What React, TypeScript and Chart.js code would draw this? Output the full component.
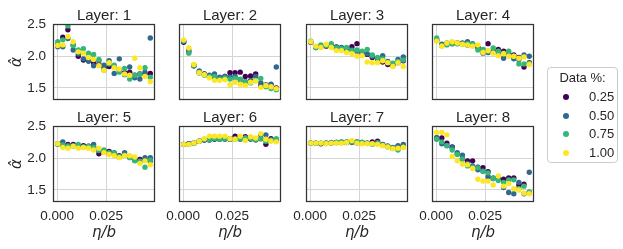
import React, { useEffect, useRef } from "react";
import { Chart, registerables } from "chart.js";

Chart.register(...registerables);

// x values (eta / b)
const etaOverB = [0.0003, 0.0029, 0.0055, 0.0082, 0.0108, 0.0134, 0.016, 0.0186, 0.0213, 0.0239, 0.0265, 0.0291, 0.0317, 0.0344, 0.037, 0.0396, 0.0422, 0.0448, 0.0475];

const dataPercents = ["0.25", "0.50", "0.75", "1.00"];
const seriesColors = ["#440154", "#31688e", "#35b779", "#fde725"];
const layerTitles = ["Layer: 1", "Layer: 2", "Layer: 3", "Layer: 4", "Layer: 5", "Layer: 6", "Layer: 7", "Layer: 8"];
const xTickValues = [0, 0.025];
const xTickLabels = ["0.000", "0.025"];
const yTickValues = [1.5, 2.0, 2.5];
const yTickLabels = ["1.5", "2.0", "2.5"];

const L1_025 = [2.18, 2.30, 2.42, 2.18, 2.00, 1.94, 1.98, 1.90, 1.87, 1.82, 1.84, 1.83, 1.79, 1.74, 1.75, 1.70, 1.72, 1.72, 1.73];
const L1_050 = [2.15, 2.15, 2.28, 2.10, 2.04, 1.96, 1.92, 1.85, 1.93, 1.86, 1.93, 1.73, 1.96, 1.71, 1.83, 1.66, 1.64, 1.75, 2.29];
const L1_075 = [2.23, 2.26, 2.48, 2.17, 2.10, 2.12, 2.05, 2.03, 1.95, 1.78, 1.88, 1.86, 1.75, 1.81, 1.64, 1.70, 1.72, 1.82, 1.67];
const L1_100 = [2.17, 2.18, 2.31, 2.23, 2.07, 2.05, 1.98, 1.95, 1.85, 1.78, 1.90, 1.82, 1.80, 1.72, 1.70, 1.97, 1.82, 1.68, 1.60];

const L2_025 = [2.22, 2.07, 1.85, 1.74, 1.72, 1.68, 1.67, 1.65, 1.68, 1.74, 1.74, 1.75, 1.68, 1.69, 1.72, 1.53, 1.53, 1.55, 1.50];
const L2_050 = [2.24, 2.10, 1.85, 1.77, 1.72, 1.70, 1.72, 1.67, 1.68, 1.67, 1.68, 1.63, 1.60, 1.62, 1.68, 1.58, 1.55, 1.56, 1.83];
const L2_075 = [2.24, 2.05, 1.86, 1.74, 1.70, 1.68, 1.68, 1.64, 1.66, 1.64, 1.65, 1.64, 1.60, 1.58, 1.62, 1.65, 1.52, 1.49, 1.47];
const L2_100 = [2.26, 2.13, 1.87, 1.74, 1.71, 1.66, 1.62, 1.62, 1.63, 1.55, 1.59, 1.56, 1.54, 1.59, 1.61, 1.51, 1.54, 1.52, 1.49];

const L3_025 = [2.22, 2.15, 2.16, 2.16, 2.18, 2.12, 2.11, 2.12, 2.15, 2.20, 2.06, 2.03, 1.98, 1.96, 1.91, 1.87, 1.86, 1.90, 1.93];
const L3_050 = [2.22, 2.14, 2.15, 2.17, 2.16, 2.15, 2.14, 2.10, 2.10, 2.08, 2.04, 2.04, 2.00, 1.96, 2.01, 1.92, 1.88, 1.95, 1.99];
const L3_075 = [2.24, 2.14, 2.18, 2.17, 2.20, 2.13, 2.12, 2.14, 2.09, 2.10, 2.08, 2.11, 2.02, 1.98, 1.96, 1.90, 1.89, 1.92, 1.94];
const L3_100 = [2.23, 2.16, 2.14, 2.19, 2.14, 2.09, 2.09, 2.06, 2.04, 2.00, 2.01, 1.91, 1.90, 1.90, 1.93, 1.90, 1.84, 1.90, 1.84];

const L4_025 = [2.25, 2.17, 2.20, 2.20, 2.21, 2.20, 2.18, 2.17, 2.14, 2.10, 2.20, 2.08, 2.11, 2.08, 2.04, 2.02, 1.98, 1.83, 1.90];
const L4_050 = [2.26, 2.19, 2.21, 2.22, 2.20, 2.21, 2.23, 2.20, 2.14, 2.05, 2.06, 2.09, 2.04, 1.97, 2.03, 1.96, 1.95, 2.02, 2.00];
const L4_075 = [2.29, 2.17, 2.18, 2.20, 2.20, 2.19, 2.20, 2.19, 2.10, 2.11, 2.08, 2.13, 2.08, 2.05, 2.08, 2.00, 1.88, 1.88, 1.89];
const L4_100 = [2.24, 2.16, 2.21, 2.23, 2.21, 2.19, 2.18, 2.16, 2.18, 2.06, 2.09, 2.05, 2.01, 2.04, 2.00, 2.00, 1.97, 1.99, 1.87];

const L5_025 = [2.23, 2.21, 2.22, 2.22, 2.20, 2.20, 2.19, 2.18, 2.07, 2.12, 2.11, 2.07, 2.04, 2.05, 2.03, 1.97, 1.98, 1.97, 1.96];
const L5_050 = [2.22, 2.26, 2.20, 2.20, 2.19, 2.18, 2.18, 2.22, 2.12, 2.10, 2.07, 2.09, 2.02, 2.09, 2.02, 1.99, 1.96, 2.01, 2.01];
const L5_075 = [2.23, 2.21, 2.19, 2.19, 2.22, 2.18, 2.19, 2.17, 2.13, 2.13, 2.09, 2.08, 2.03, 2.05, 2.01, 1.96, 1.95, 1.86, 1.97];
const L5_100 = [2.23, 2.17, 2.16, 2.19, 2.16, 2.17, 2.16, 2.13, 2.16, 2.09, 2.06, 2.04, 2.01, 2.04, 2.04, 2.02, 1.92, 1.96, 1.90];

const L6_025 = [2.22, 2.23, 2.24, 2.27, 2.29, 2.29, 2.30, 2.30, 2.31, 2.30, 2.35, 2.32, 2.34, 2.31, 2.30, 2.31, 2.22, 2.31, 2.28];
const L6_050 = [2.22, 2.23, 2.24, 2.27, 2.29, 2.30, 2.31, 2.31, 2.30, 2.31, 2.31, 2.30, 2.32, 2.30, 2.29, 2.37, 2.37, 2.28, 2.29];
const L6_075 = [2.22, 2.22, 2.24, 2.27, 2.30, 2.29, 2.31, 2.30, 2.31, 2.30, 2.30, 2.31, 2.32, 2.31, 2.30, 2.31, 2.27, 2.29, 2.31];
const L6_100 = [2.22, 2.22, 2.24, 2.27, 2.31, 2.35, 2.35, 2.35, 2.35, 2.31, 2.30, 2.35, 2.28, 2.34, 2.32, 2.39, 2.30, 2.27, 2.26];

const L7_025 = [2.24, 2.24, 2.23, 2.24, 2.24, 2.25, 2.25, 2.25, 2.26, 2.26, 2.25, 2.24, 2.26, 2.27, 2.22, 2.19, 2.16, 2.18, 2.20];
const L7_050 = [2.24, 2.24, 2.24, 2.24, 2.25, 2.25, 2.26, 2.26, 2.25, 2.24, 2.25, 2.24, 2.23, 2.25, 2.21, 2.19, 2.17, 2.20, 2.22];
const L7_075 = [2.24, 2.24, 2.24, 2.24, 2.24, 2.25, 2.26, 2.26, 2.26, 2.26, 2.25, 2.24, 2.22, 2.24, 2.21, 2.18, 2.16, 2.13, 2.18];
const L7_100 = [2.24, 2.24, 2.24, 2.23, 2.24, 2.24, 2.24, 2.25, 2.28, 2.24, 2.23, 2.23, 2.23, 2.22, 2.20, 2.18, 2.15, 2.16, 2.17];

const L8_025 = [2.31, 2.32, 2.24, 2.18, 2.07, 1.99, 1.96, 1.96, 1.86, 1.85, 1.79, 1.68, 1.68, 1.67, 1.69, 1.69, 1.58, 1.59, 1.46];
const L8_050 = [2.33, 2.23, 2.20, 2.17, 2.09, 2.05, 1.92, 1.88, 1.82, 1.80, 1.71, 1.69, 1.70, 1.54, 1.46, 1.44, 1.62, 1.44, 1.78];
const L8_075 = [2.30, 2.26, 2.20, 2.13, 2.06, 1.99, 1.88, 1.86, 1.85, 1.79, 1.77, 1.68, 1.65, 1.62, 1.66, 1.66, 1.52, 1.56, 1.47];
const L8_100 = [2.41, 2.41, 2.37, 2.03, 1.96, 1.91, 1.90, 1.84, 1.67, 1.64, 1.64, 1.58, 1.72, 1.56, 1.60, 1.52, 1.50, 1.45, 1.44];

const layerSeries = [
  [L1_025, L1_050, L1_075, L1_100],
  [L2_025, L2_050, L2_075, L2_100],
  [L3_025, L3_050, L3_075, L3_100],
  [L4_025, L4_050, L4_075, L4_100],
  [L5_025, L5_050, L5_075, L5_100],
  [L6_025, L6_050, L6_075, L6_100],
  [L7_025, L7_050, L7_075, L7_100],
  [L8_025, L8_050, L8_075, L8_100],
];

// layout
const COL_LEFT = [53, 179, 306, 432];
const ROW_TOP = [24, 126];
const AX_W = 53;
const TITLE_H = 24;
const XAX_H = 46;
const PLOT_W = 104;
const PLOT_H = 76;
const SANS = "'Liberation Sans', Arial, sans-serif";
const TEXT = "#262626";
const GRID = "#d5d5d5";

const framePlugin = {
  id: "frame",
  afterDraw(chart: any) {
    const { ctx, chartArea } = chart;
    ctx.save();
    ctx.strokeStyle = "#333333";
    ctx.lineWidth = 1.25;
    ctx.strokeRect(chartArea.left + 0.5, chartArea.top + 0.5, chartArea.right - chartArea.left - 1, chartArea.bottom - chartArea.top - 1);
    ctx.restore();
  },
};

function Panel({ idx }: { idx: number }) {
  const ref = useRef<HTMLCanvasElement | null>(null);
  const row = Math.floor(idx / 4);
  const col = idx % 4;
  const isLeft = col === 0;
  const isBottom = row === 1;
  const w = AX_W + PLOT_W + 2;
  const h = TITLE_H + PLOT_H + XAX_H;

  useEffect(() => {
    if (!ref.current) return;
    const series = layerSeries[idx];
    const datasets = series.map((vals, s) => ({
      label: dataPercents[s],
      data: vals.map((v, i) => ({ x: etaOverB[i], y: v })),
      backgroundColor: seriesColors[s],
      borderWidth: 0,
      pointRadius: 2.7,
      order: 3 - s,
    }));
    const chart = new Chart(ref.current, {
      type: "scatter",
      data: { datasets },
      options: {
        animation: false,
        responsive: false,
        events: [],
        layout: { padding: { left: 0, right: 2, top: 0, bottom: 0 } },
        plugins: {
          legend: { display: false },
          tooltip: { enabled: false },
          title: {
            display: true,
            fullSize: false,
            text: layerTitles[idx],
            color: TEXT,
            font: { family: SANS, size: 15, weight: "normal", lineHeight: 1 },
            padding: { top: 8, bottom: 1 },
          },
        },
        scales: {
          x: {
            type: "linear",
            min: -0.0021,
            max: 0.0499,
            afterBuildTicks: (s: any) => {
              s.ticks = xTickValues.map((v) => ({ value: v }));
            },
            afterFit: (s: any) => {
              s.height = XAX_H;
            },
            grid: { color: GRID, lineWidth: 1, drawTicks: false },
            border: { display: false },
            ticks: {
              display: isBottom,
              padding: 6,
              color: TEXT,
              font: { family: SANS, size: 13.5 },
              callback: (_v: any, i: number) => xTickLabels[i],
            },
            title: {
              display: isBottom,
              text: "η/b",
              color: TEXT,
              font: { family: "'DejaVu Sans'", size: 15, style: "italic", lineHeight: 1.2 },
              padding: { top: 0, bottom: 6 },
            },
          },
          y: {
            type: "linear",
            min: 1.31,
            max: 2.51,
            afterBuildTicks: (s: any) => {
              s.ticks = yTickValues.map((v) => ({ value: v }));
            },
            afterFit: (s: any) => {
              s.width = AX_W;
            },
            grid: { color: GRID, lineWidth: 1, drawTicks: false },
            border: { display: false },
            ticks: {
              display: isLeft,
              padding: 7,
              color: TEXT,
              font: { family: SANS, size: 13.5 },
              callback: (_v: any, i: number) => yTickLabels[i],
            },
            title: {
              display: isLeft,
              text: "α̂",
              color: TEXT,
              font: { family: "'DejaVu Sans'", size: 15, style: "italic", lineHeight: 1.2 },
              padding: { top: 8.5, bottom: 0 },
            },
          },
        },
      },
      plugins: [framePlugin],
    } as any);
    return () => chart.destroy();
  }, [idx]);

  return (
    <canvas
      ref={ref}
      width={w}
      height={h}
      style={{ position: "absolute", left: COL_LEFT[col] - AX_W, top: ROW_TOP[row] - TITLE_H, width: w, height: h }}
    />
  );
}

function Legend() {
  return (
    <div
      style={{
        position: "absolute",
        left: 547,
        top: 67,
        width: 69,
        height: 94,
        border: "1px solid #cccccc",
        borderRadius: 4,
        background: "#ffffff",
        fontFamily: SANS,
        fontSize: 13,
        color: TEXT,
      }}
    >
      <div style={{ position: "absolute", left: 0, width: 69, top: 2, textAlign: "center", lineHeight: "16px" }}>Data %:</div>
      {dataPercents.map((p, i) => (
        <div key={p} style={{ position: "absolute", left: 0, top: 21 + i * 18.5, height: 16, width: 69 }}>
          <span
            style={{
              position: "absolute",
              left: 15,
              top: 5,
              width: 6,
              height: 6,
              borderRadius: 3,
              background: seriesColors[i],
            }}
          />
          <span style={{ position: "absolute", left: 41, top: 0, lineHeight: "16px" }}>{p}</span>
        </div>
      ))}
    </div>
  );
}

export default function App() {
  return (
    <div style={{ position: "fixed", left: 0, top: 0, width: 623, height: 249, background: "#ffffff", overflow: "hidden" }}>
      {layerTitles.map((_, i) => (
        <Panel key={i} idx={i} />
      ))}
      <Legend />
    </div>
  );
}
